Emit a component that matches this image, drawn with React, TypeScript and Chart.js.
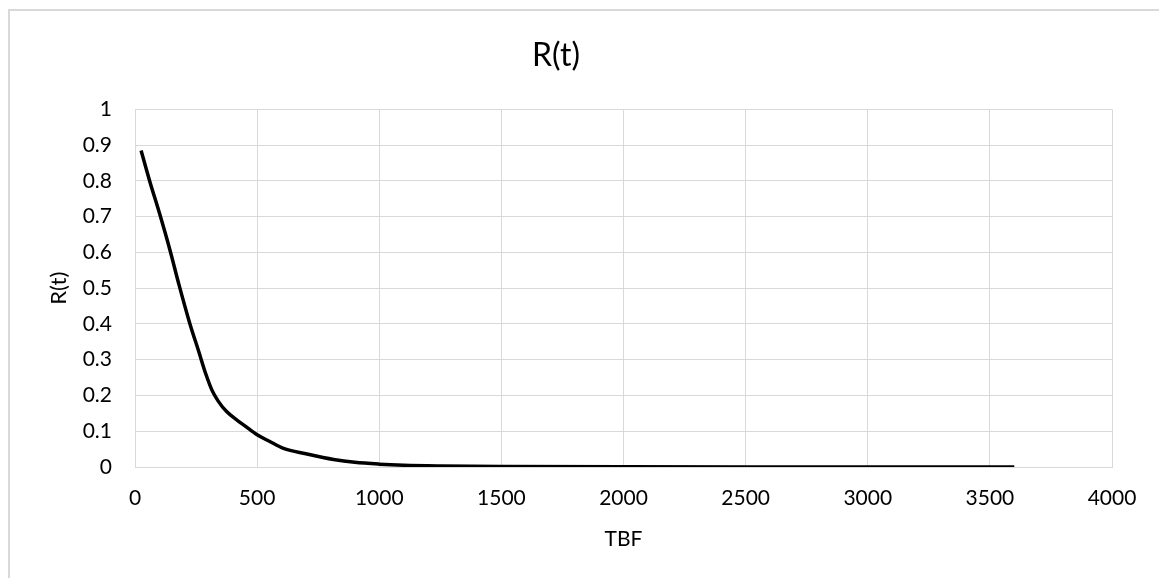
import React, { useEffect, useRef } from "react";
import { Chart, registerables } from "chart.js";

Chart.register(...registerables);

const TITLE = "R(t)";
const X_TITLE = "TBF";
const Y_TITLE = "R(t)";

const tbf = [25, 60, 100, 143, 180, 225, 260, 290, 315, 340, 375, 420, 450, 500, 550, 608, 700, 813, 900, 1000, 1100, 1250, 1500, 2000, 2500, 3000, 3600];
const reliability = [0.885, 0.8, 0.71, 0.607, 0.51, 0.4, 0.325, 0.26, 0.215, 0.185, 0.155, 0.13, 0.115, 0.09, 0.072, 0.052, 0.037, 0.021, 0.013, 0.008, 0.005, 0.003, 0.0015, 0.0004, 0.0001, 0, 0];

const X_MIN = 0;
const X_MAX = 4000;
const X_STEP = 500;
const Y_MIN = 0;
const Y_MAX = 1;
const Y_STEP = 0.1;

const FONT = "Lato, 'Open Sans', sans-serif";
const GRID = "#d9d9d9";
const TEXT = "#000000";

export default function App() {
  const canvasRef = useRef<HTMLCanvasElement | null>(null);

  useEffect(() => {
    document.body.style.margin = "0";
    const canvas = canvasRef.current;
    if (!canvas) return;
    const points = tbf.map((x, i) => ({ x, y: reliability[i] }));
    const chart = new Chart(canvas, {
      type: "line",
      data: {
        datasets: [
          {
            label: Y_TITLE,
            data: points,
            borderColor: "#000000",
            backgroundColor: "#000000",
            borderWidth: 3.5,
            pointRadius: 0,
            cubicInterpolationMode: "monotone",
            fill: false,
          },
        ],
      },
      options: {
        animation: false,
        responsive: false,
        maintainAspectRatio: false,
        layout: { padding: { left: 0, right: 47, top: 0, bottom: 0 } },
        plugins: {
          legend: { display: false },
          tooltip: { enabled: false },
          title: {
            display: true,
            text: TITLE,
            color: TEXT,
            font: { family: FONT, size: 32, weight: "normal" },
            padding: { top: 36, bottom: 35 },
          },
        },
        scales: {
          x: {
            type: "linear",
            min: X_MIN,
            max: X_MAX,
            border: { display: true, color: GRID, width: 1 },
            grid: { color: GRID, lineWidth: 1, drawTicks: false },
            ticks: {
              stepSize: X_STEP,
              color: TEXT,
              padding: 19,
              maxRotation: 0,
              font: { family: FONT, size: 21 },
              callback: (v: any) => String(Math.round(Number(v))),
            },
            title: {
              display: true,
              text: X_TITLE,
              color: TEXT,
              font: { family: FONT, size: 21, weight: "normal" },
              padding: { top: 0, bottom: 26 },
            },
            afterFit: (scale: any) => {
              scale.height = 111;
            },
          },
          y: {
            type: "linear",
            min: Y_MIN,
            max: Y_MAX,
            border: { display: false },
            grid: { color: GRID, lineWidth: 1, drawTicks: false },
            ticks: {
              stepSize: Y_STEP,
              color: TEXT,
              padding: 23,
              font: { family: FONT, size: 21 },
              callback: (v: any) => String(Math.round(Number(v) * 10) / 10),
            },
            title: {
              display: true,
              text: Y_TITLE,
              color: TEXT,
              font: { family: FONT, size: 22, weight: "normal" },
              padding: { top: 46, bottom: 0 },
            },
            afterFit: (scale: any) => {
              scale.width = 135;
            },
          },
        },
      },
    });
    return () => chart.destroy();
  }, []);

  return (
    <div style={{ position: "relative", width: 1159, height: 578, overflow: "hidden", background: "#fff" }}>
      <div
        style={{
          position: "absolute",
          left: 8,
          top: 9,
          width: 1200,
          height: 620,
          border: "2px solid #d9d9d9",
          boxSizing: "border-box",
        }}
      />
      <canvas ref={canvasRef} width={1159} height={578} style={{ position: "absolute", left: 0, top: 0 }} />
    </div>
  );
}
